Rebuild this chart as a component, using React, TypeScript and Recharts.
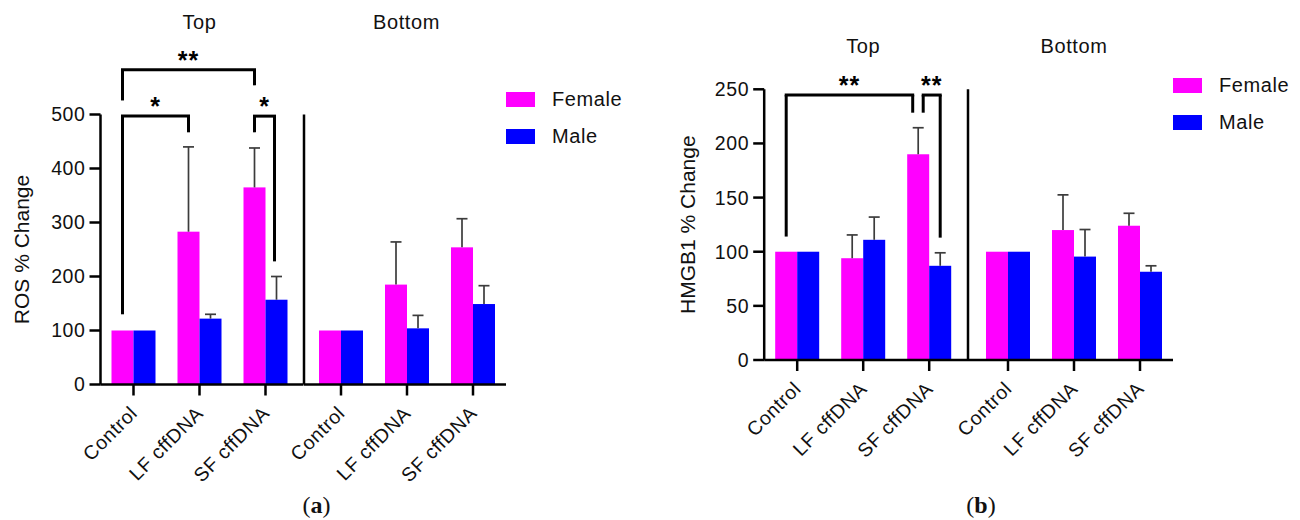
import React from 'react';
import { BarChart, Bar, XAxis, YAxis, ReferenceLine, Legend } from 'recharts';

const FONT = '"Liberation Sans", Arial, Helvetica, sans-serif';
const SERIF = '"Liberation Serif", "Times New Roman", serif';

const groups = ['Control', 'LF cffDNA', 'SF cffDNA'];

// (a) ROS % change, mean and upper SD
const rosTopFemale = [100, 283, 365];
const rosTopFemaleSd = [0, 157, 73];
const rosTopMale = [100, 122, 157];
const rosTopMaleSd = [0, 8, 43];
const rosBottomFemale = [100, 185, 254];
const rosBottomFemaleSd = [0, 79, 53];
const rosBottomMale = [100, 104, 149];
const rosBottomMaleSd = [0, 24, 34];
const rosTicks = [0, 100, 200, 300, 400, 500];

// (b) HMGB1 % change
const hmgbTopFemale = [100, 94, 190];
const hmgbTopFemaleSd = [0, 21.5, 24.5];
const hmgbTopMale = [100, 111, 87];
const hmgbTopMaleSd = [0, 21, 12];
const hmgbBottomFemale = [100, 120, 124];
const hmgbBottomFemaleSd = [0, 32.5, 11.5];
const hmgbBottomMale = [100, 95.5, 81.5];
const hmgbBottomMaleSd = [0, 25, 5.5];
const hmgbTicks = [0, 50, 100, 150, 200, 250];

// significance brackets, heights in axis units
const rosBrackets = [
  { from: 'Control', fromSex: 'F', to: 'SF cffDNA', toSex: 'F', top: 583, fromEnd: 526, toEnd: 554, mark: '**' },
  { from: 'Control', fromSex: 'F', to: 'LF cffDNA', toSex: 'F', top: 497, fromEnd: 130, toEnd: 467, mark: '*' },
  { from: 'SF cffDNA', fromSex: 'F', to: 'SF cffDNA', toSex: 'M', top: 497, fromEnd: 467, toEnd: 228, mark: '*' },
];
const hmgbBrackets = [
  { from: 'Control', fromSex: 'F', to: 'SF cffDNA', toSex: 'F', top: 244.7, fromEnd: 114, toEnd: 228.4, mark: '**' },
  { from: 'SF cffDNA', fromSex: 'F', to: 'SF cffDNA', toSex: 'M', top: 244.7, fromEnd: 228.4, toEnd: 113, mark: '**' },
];

const FEMALE = '#FF00FF';
const MALE = '#0000FF';
const BAR = 22;
const BAND = 66;

const makeRows = (f: number[], fsd: number[], m: number[], msd: number[]) =>
  groups.map((g, i) => ({ group: g, female: f[i], femaleSd: fsd[i], male: m[i], maleSd: msd[i] }));

const barWithError = (valKey: string, sdKey: string) => (props: any) => {
  const { x, y, width, height, fill, payload } = props;
  const sd = payload[sdKey];
  const val = payload[valKey];
  const cx = x + width / 2;
  const top = sd > 0 ? y - (height * sd) / val : y;
  return (
    <g>
      <rect x={x} y={y} width={width} height={height} fill={fill} />
      {sd > 0 && (
        <g stroke="#3c3c3c" strokeWidth={1.7}>
          <line x1={cx} y1={y} x2={cx} y2={top} />
          <line x1={cx - 5.5} y1={top} x2={cx + 5.5} y2={top} />
        </g>
      )}
    </g>
  );
};

const AngledTick = (props: any) => {
  const { x, y, payload } = props;
  const ax = x + 5;
  const ay = y + 17;
  return (
    <text
      x={ax}
      y={ay}
      transform={`rotate(-45 ${ax} ${ay})`}
      textAnchor="end"
      fontSize={19.5}
      letterSpacing={0.6}
      fill="#111"
      fontFamily={FONT}
    >
      {payload.value}
    </text>
  );
};

const LegendBox = (props: any) => (
  <div style={{ fontFamily: FONT }}>
    {(props.payload || []).map((p: any) => (
      <div key={p.value} style={{ display: 'flex', alignItems: 'center', height: 37 }}>
        <span style={{ display: 'inline-block', width: 29, height: 15, background: p.color }} />
        <span style={{ marginLeft: 17, fontSize: 20, color: '#111', letterSpacing: 0.6 }}>{p.value}</span>
      </div>
    ))}
  </div>
);

const sexShift: Record<string, number> = { F: -BAR / 2, M: BAR / 2 };
const lineStyle = { stroke: '#000', strokeWidth: 3 };

function bracketLines(b: any, nudge: number[], key: string) {
  const dxFrom = sexShift[b.fromSex] + nudge[0];
  const dxTo = sexShift[b.toSex] + nudge[1];
  return [
    <ReferenceLine
      key={key + 'l'}
      ifOverflow="visible"
      segment={[{ x: b.from, y: b.fromEnd }, { x: b.from, y: b.top }]}
      shape={(p: any) => <line x1={p.x1 + dxFrom} y1={p.y1} x2={p.x2 + dxFrom} y2={p.y2} {...lineStyle} />}
    />,
    <ReferenceLine
      key={key + 'r'}
      ifOverflow="visible"
      segment={[{ x: b.to, y: b.toEnd }, { x: b.to, y: b.top }]}
      shape={(p: any) => <line x1={p.x1 + dxTo} y1={p.y1} x2={p.x2 + dxTo} y2={p.y2} {...lineStyle} />}
    />,
    <ReferenceLine
      key={key + 't'}
      ifOverflow="visible"
      segment={[{ x: b.from, y: b.top }, { x: b.to, y: b.top }]}
      shape={(p: any) => (
        <g>
          <line x1={p.x1 + dxFrom} y1={p.y1} x2={p.x2 + dxTo} y2={p.y2} {...lineStyle} strokeLinecap="square" />
          <text
            x={(p.x1 + dxFrom + p.x2 + dxTo) / 2}
            y={p.y1 - 1}
            textAnchor="middle"
            fontSize={25}
            fontWeight="bold"
            letterSpacing={1}
            fontFamily={FONT}
            fill="#000"
          >
            {b.mark}
          </text>
        </g>
      )}
    />,
  ];
}

type PanelSpec = {
  left: number;
  right: number;
  yAxisX: number;
  dividerX: number;
  axisEnd: number;
  plotTop: number;
  plotBottom: number;
  ticks: number[];
  yLabel: string;
  yLabelOffset: number;
  topRows: any[];
  bottomRows: any[];
  brackets: any[];
  nudges: number[][];
  legendLeft: number;
  legendTop: number;
};

const axisStroke = { stroke: '#000', strokeWidth: 2.5 };
const tickText = { fontSize: 19.5, fill: '#111', fontFamily: FONT, letterSpacing: 0.6 };

function Panel({ s }: { s: PanelSpec }) {
  const bottomMargin = 520 - s.plotBottom - 100;
  const yMax = s.ticks[s.ticks.length - 1];
  const topWidth = s.dividerX - s.left + 5;
  const bLeft = s.dividerX - 110;
  const bWidth = s.right - bLeft;
  return (
    <>
      <div style={{ position: 'absolute', left: s.left, top: 0 }}>
        <BarChart
          width={topWidth}
          height={520}
          data={s.topRows}
          margin={{ top: s.plotTop, right: 5, bottom: bottomMargin, left: s.yAxisX - s.left - 85 }}
          barGap={0}
          barSize={BAR}
        >
          <XAxis
            dataKey="group"
            height={100}
            interval={0}
            padding={{ left: 0, right: s.dividerX - s.yAxisX - 3 * BAND }}
            tickSize={11}
            tick={<AngledTick />}
            axisLine={axisStroke}
            tickLine={axisStroke}
          />
          <YAxis
            width={85}
            domain={[0, yMax]}
            ticks={s.ticks}
            interval={0}
            tickSize={11}
            tickMargin={4}
            tick={tickText}
            axisLine={axisStroke}
            tickLine={axisStroke}
            label={{
              value: s.yLabel,
              angle: -90,
              position: 'insideLeft',
              offset: s.yLabelOffset,
              style: { textAnchor: 'middle', fontSize: 21, fill: '#111', fontFamily: FONT },
            }}
          />
          <Bar dataKey="female" name="Female" fill={FEMALE} isAnimationActive={false} shape={barWithError('female', 'femaleSd')} />
          <Bar dataKey="male" name="Male" fill={MALE} isAnimationActive={false} shape={barWithError('male', 'maleSd')} />
          {s.brackets.map((b, i) => bracketLines(b, s.nudges[i], 'b' + i))}
        </BarChart>
      </div>
      <div style={{ position: 'absolute', left: bLeft, top: 0 }}>
        <BarChart
          width={bWidth}
          height={520}
          data={s.bottomRows}
          margin={{ top: s.plotTop, right: s.right - s.axisEnd, bottom: bottomMargin, left: 108 }}
          barGap={0}
          barSize={BAR}
        >
          <XAxis
            dataKey="group"
            height={100}
            interval={0}
            padding={{ left: s.axisEnd - s.dividerX - 3 * BAND, right: 0 }}
            tickSize={11}
            tick={<AngledTick />}
            axisLine={axisStroke}
            tickLine={axisStroke}
          />
          {/* divider between Top and Bottom */}
          <YAxis width={2} domain={[0, yMax]} ticks={s.ticks} tick={false} tickLine={false} axisLine={axisStroke} />
          <Bar dataKey="female" name="Female" fill={FEMALE} isAnimationActive={false} shape={barWithError('female', 'femaleSd')} />
          <Bar dataKey="male" name="Male" fill={MALE} isAnimationActive={false} shape={barWithError('male', 'maleSd')} />
          <Legend
            layout="vertical"
            align="center"
            verticalAlign="middle"
            wrapperStyle={{ left: s.legendLeft - bLeft, top: s.legendTop }}
            content={LegendBox}
          />
        </BarChart>
      </div>
    </>
  );
}

const panelA: PanelSpec = {
  left: 0,
  right: 640,
  yAxisX: 100.5,
  dividerX: 303.5,
  axisEnd: 505.5,
  plotTop: 114.5,
  plotBottom: 384.5,
  ticks: rosTicks,
  yLabel: 'ROS % Change',
  yLabelOffset: 6.4,
  topRows: makeRows(rosTopFemale, rosTopFemaleSd, rosTopMale, rosTopMaleSd),
  bottomRows: makeRows(rosBottomFemale, rosBottomFemaleSd, rosBottomMale, rosBottomMaleSd),
  brackets: rosBrackets,
  nudges: [[0, 0], [0, 0], [0, -2]],
  legendLeft: 506,
  legendTop: 80.5,
};

const panelB: PanelSpec = {
  left: 650,
  right: 1300,
  yAxisX: 764.2,
  dividerX: 968,
  axisEnd: 1173,
  plotTop: 89.3,
  plotBottom: 360,
  ticks: hmgbTicks,
  yLabel: 'HMGB1 % Change',
  yLabelOffset: 8.3,
  topRows: makeRows(hmgbTopFemale, hmgbTopFemaleSd, hmgbTopMale, hmgbTopMaleSd),
  bottomRows: makeRows(hmgbBottomFemale, hmgbBottomFemaleSd, hmgbBottomMale, hmgbBottomMaleSd),
  brackets: hmgbBrackets,
  nudges: [[0, -5.5], [5, 0]],
  legendLeft: 1173,
  legendTop: 67,
};

function Titles({ s, baseline, caption, captionX }: { s: PanelSpec; baseline: number; caption: string; captionX: number }) {
  const topCenter = s.yAxisX + (3 * BAND) / 2;
  const bottomCenter = s.axisEnd - (3 * BAND) / 2;
  return (
    <>
      <text x={topCenter} y={baseline} textAnchor="middle" fontSize={20} letterSpacing={0.6} fill="#111" fontFamily={FONT}>
        Top
      </text>
      <text x={bottomCenter} y={baseline} textAnchor="middle" fontSize={20} letterSpacing={0.6} fill="#111" fontFamily={FONT}>
        Bottom
      </text>
      <text x={captionX} y={513} textAnchor="middle" fontSize={24} fill="#111" fontFamily={SERIF}>
        (<tspan fontWeight="bold">{caption}</tspan>)
      </text>
    </>
  );
}

export default function App() {
  return (
    <div style={{ position: 'absolute', left: 0, top: 0, width: 1300, height: 520, background: '#fff', overflow: 'hidden' }}>
      <Panel s={panelA} />
      <Panel s={panelB} />
      <svg width={1300} height={520} style={{ position: 'absolute', left: 0, top: 0, pointerEvents: 'none' }}>
        <Titles s={panelA} baseline={28.5} caption="a" captionX={316.5} />
        <Titles s={panelB} baseline={53} caption="b" captionX={981} />
      </svg>
    </div>
  );
}
